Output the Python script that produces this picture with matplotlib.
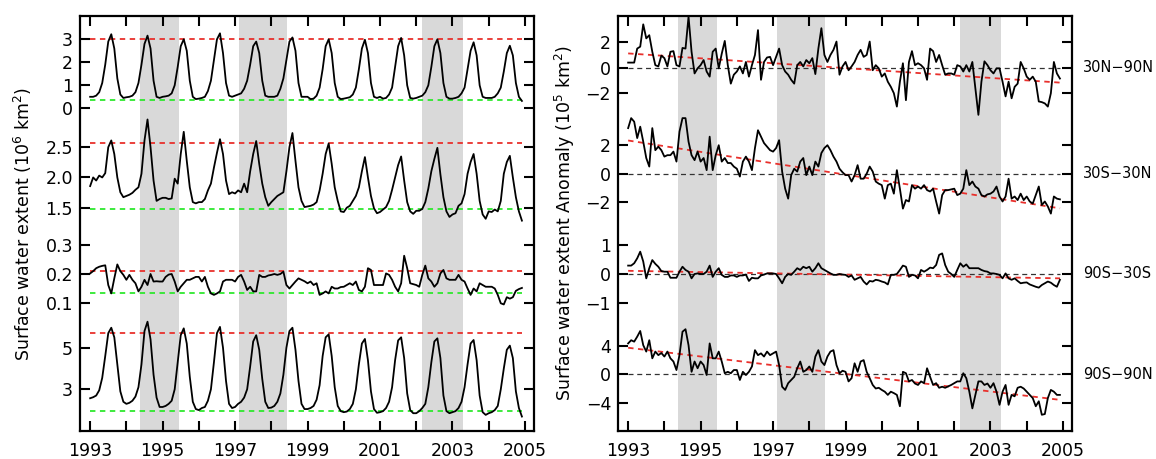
import numpy as np
import matplotlib.pyplot as plt

months = 1993 + np.arange(144) / 12.0

# left panel: surface water extent, monthly 1993-2004
ext_30n_90n = [
    0.5, 0.5, 0.55, 0.7, 1.1, 1.9, 2.9, 3.22, 2.6, 1.3, 0.6, 0.45,
    0.48, 0.5, 0.55, 0.7, 1.1, 1.9, 2.8, 3.16, 2.6, 1.2, 0.5, 0.45,
    0.5, 0.52, 0.55, 0.65, 1.0, 1.8, 2.7, 3.0, 2.5, 1.2, 0.5, 0.4,
    0.42, 0.45, 0.5, 0.75, 1.2, 2.1, 3.0, 3.26, 2.4, 1.1, 0.55, 0.5,
    0.55, 0.6, 0.65, 0.85, 1.2, 1.9, 2.7, 2.9, 2.4, 1.2, 0.55, 0.5,
    0.5, 0.5, 0.55, 0.85, 1.3, 2.1, 2.9, 3.08, 2.5, 1.1, 0.5, 0.5,
    0.5, 0.4, 0.42, 0.55, 0.9, 1.7, 2.7, 3.0, 2.4, 1.1, 0.5, 0.4,
    0.42, 0.45, 0.48, 0.6, 0.9, 1.7, 2.6, 2.98, 2.4, 1.1, 0.5, 0.45,
    0.5, 0.42, 0.45, 0.6, 0.9, 1.8, 2.7, 3.06, 2.3, 1.0, 0.45, 0.42,
    0.45, 0.5, 0.55, 0.7, 1.0, 1.8, 2.7, 3.0, 2.4, 1.1, 0.5, 0.42,
    0.42, 0.45, 0.5, 0.65, 0.9, 1.7, 2.5, 2.87, 2.3, 1.0, 0.5, 0.45,
    0.45, 0.45, 0.5, 0.65, 0.9, 1.6, 2.4, 2.72, 2.3, 1.1, 0.5, 0.32,
]
ext_30s_30n = [
    1.86, 2.0, 1.95, 2.03, 2.0, 2.07, 2.49, 2.6, 2.38, 2.0, 1.76, 1.68,
    1.7, 1.72, 1.75, 1.8, 1.84, 2.06, 2.6, 2.94, 2.49, 1.95, 1.62, 1.65,
    1.67, 1.67, 1.65, 1.66, 1.98, 1.9, 2.38, 2.74, 2.27, 1.84, 1.6, 1.58,
    1.6, 1.6, 1.65, 1.79, 1.9, 2.16, 2.4, 2.62, 2.38, 1.95, 1.73, 1.76,
    1.74, 1.79, 1.76, 1.9, 1.76, 2.1, 2.38, 2.59, 2.22, 1.9, 1.68, 1.54,
    1.6, 1.65, 1.7, 1.73, 1.76, 2.1, 2.49, 2.72, 2.27, 1.84, 1.62, 1.52,
    1.53, 1.54, 1.56, 1.6, 1.79, 2.06, 2.38, 2.55, 2.22, 1.84, 1.62, 1.45,
    1.44, 1.51, 1.54, 1.62, 1.7, 1.84, 2.1, 2.33, 2.0, 1.7, 1.5, 1.42,
    1.44, 1.48, 1.52, 1.62, 1.8, 2.0, 2.2, 2.34, 1.95, 1.6, 1.45, 1.41,
    1.46, 1.46, 1.49, 1.6, 1.82, 2.1, 2.3, 2.48, 2.05, 1.68, 1.45, 1.36,
    1.4, 1.42, 1.54, 1.58, 1.73, 2.06, 2.25, 2.38, 2.06, 1.62, 1.4, 1.33,
    1.45, 1.44, 1.48, 1.45, 1.62, 2.06, 2.25, 2.35, 2.0, 1.68, 1.45, 1.3,
]
ext_90s_30s = [
    0.202, 0.21, 0.22, 0.225, 0.228, 0.23, 0.162, 0.133, 0.185, 0.233, 0.21, 0.197,
    0.18, 0.197, 0.18, 0.168, 0.14, 0.156, 0.18, 0.162, 0.2, 0.174, 0.175, 0.174,
    0.174, 0.19, 0.198, 0.2, 0.174, 0.14, 0.156, 0.168, 0.18, 0.18, 0.185, 0.19,
    0.19, 0.174, 0.19, 0.156, 0.133, 0.128, 0.133, 0.14, 0.174, 0.18, 0.18, 0.18,
    0.174, 0.19, 0.197, 0.174, 0.145, 0.156, 0.14, 0.14, 0.197, 0.19, 0.19, 0.195,
    0.197, 0.2, 0.197, 0.2, 0.208, 0.162, 0.15, 0.162, 0.174, 0.185, 0.18, 0.175,
    0.168, 0.174, 0.162, 0.168, 0.128, 0.133, 0.14, 0.133, 0.156, 0.15, 0.15, 0.155,
    0.156, 0.162, 0.168, 0.162, 0.174, 0.145, 0.14, 0.156, 0.22, 0.214, 0.162, 0.162,
    0.162, 0.162, 0.202, 0.197, 0.18, 0.156, 0.14, 0.168, 0.263, 0.22, 0.168, 0.165,
    0.162, 0.156, 0.197, 0.229, 0.185, 0.174, 0.156, 0.168, 0.202, 0.214, 0.185, 0.18,
    0.18, 0.18, 0.197, 0.18, 0.174, 0.15, 0.128, 0.15, 0.14, 0.168, 0.162, 0.156,
    0.156, 0.156, 0.15, 0.128, 0.099, 0.095, 0.12, 0.115, 0.12, 0.142, 0.148, 0.152,
]
ext_90s_90n = [
    2.57, 2.62, 2.7, 2.95, 3.55, 4.6, 5.7, 5.96, 5.5, 4.2, 2.9, 2.4,
    2.3, 2.35, 2.45, 2.65, 3.1, 4.2, 5.8, 6.25, 5.4, 3.7, 2.6, 2.15,
    2.15, 2.2, 2.3, 2.45, 3.0, 4.3, 5.6, 5.93, 5.2, 3.6, 2.4, 2.05,
    2.0, 2.1, 2.15, 2.45, 3.0, 4.3, 5.7, 6.0, 5.0, 3.4, 2.3, 2.1,
    2.15, 2.3, 2.4, 2.6, 3.0, 4.1, 5.3, 5.6, 4.9, 3.5, 2.4, 2.1,
    2.12, 2.2, 2.4, 2.8, 3.7, 5.0, 5.8, 5.96, 4.9, 3.4, 2.3, 2.05,
    2.05, 2.1, 2.2, 2.5, 3.2, 4.6, 5.5, 5.64, 4.6, 3.1, 2.2, 1.95,
    1.9, 1.93, 2.05, 2.3, 3.0, 4.2, 5.2, 5.42, 4.4, 2.9, 2.05, 1.87,
    1.9, 1.95, 2.1, 2.4, 3.1, 4.4, 5.35, 5.5, 4.5, 2.8, 2.0, 1.85,
    1.85, 1.95, 2.1, 2.3, 3.1, 4.3, 5.3, 5.45, 4.5, 2.7, 1.95, 1.85,
    1.9, 1.95, 2.1, 2.4, 3.1, 4.2, 5.2, 5.37, 4.4, 2.7, 1.9, 1.77,
    1.85, 1.9, 2.0, 2.2, 3.0, 4.0, 4.9, 5.1, 4.5, 2.9, 2.1, 1.69,
]
ext_upper = [3.0, 2.565, 0.21, 5.69]
ext_lower = [0.37, 1.49, 0.133, 1.94]

# right panel: anomalies (10^5 km^2)
regions = ["30N\u221290N", "30S\u221230N", "90S\u221230S", "90S\u221290N"]
anom_30n_90n = [
    0.4, 0.4, 0.4, 1.5, 1.65, 3.4, 2.3, 2.55, 1.25, 0.2, 0.1, 0.95,
    0.75, 0.1, 1.25, 1.3, 0.2, 0.1, 1.55, 1.5, 4.0, 1.25, -0.45, -0.05,
    0.2, 0.6, -0.3, -0.7, 1.25, 1.5, -0.05, 1.1, 2.1, 0.2, -1.25, -0.55,
    -0.3, 0.1, -0.45, 0.45, -0.7, 0.2, 1.0, 2.95, -0.95, 0.45, 0.8, 0.85,
    0.2, 0.85, 1.5, 0.2, -0.3, -0.55, -0.95, -1.25, 0.2, 0.45, 0.1, 0.6,
    0.35, 0.75, -0.5, 1.5, 3.1, 1.0, 0.45, 1.0, 1.4, 2.05, -0.55, 0.1,
    0.45, -0.2, 0.1, 0.45, 1.0, 1.4, 0.85, 1.0, 2.05, -0.2, 0.2, -0.05,
    -0.7, -0.45, -1.1, -1.5, -2.0, -3.05, -1.1, 0.35, -2.55, 0.45, 1.3, 0.2,
    0.35, 0.2, -0.05, -0.95, 1.5, 1.3, 0.45, 1.0, 0.2, -0.55, -0.45, -0.45,
    -0.55, 0.2, 0.1, -0.3, 0.2, -0.3, 0.45, -1.6, -3.7, -1.1, 0.5, 0.2,
    -0.2, -0.45, -0.05, -0.05, -1.1, -2.25, -1.1, -2.4, -1.5, -1.25, 0.45, -0.05,
    -0.7, -0.95, -0.7, -1.1, -2.65, -2.7, -2.8, -3.05, -2.0, 0.45, -0.45, -0.85,
]
anom_30s_30n = [
    3.2, 3.9, 3.65, 2.5, 3.3, 2.25, 1.1, 0.5, 3.2, 1.65, 1.9, 1.65,
    1.2, 1.3, 1.3, 1.55, 0.85, 2.95, 3.9, 3.9, 2.25, 1.3, 0.95, 1.55,
    0.85, 1.1, 0.25, 2.6, 0.25, 1.3, 2.0, 0.85, 1.1, 0.75, 0.75, 0.5,
    0.35, -0.2, 0.85, 1.2, 0.85, 0.25, 1.8, 3.05, 2.6, 2.15, 1.9, 1.65,
    1.55, 1.8, 2.35, 0.15, -1.05, -1.75, -0.1, 0.35, 0.15, 0.85, 1.1, -0.1,
    0.5, -0.1, 0.85, 0.5, 1.45, 1.8, 2.0, 1.65, 1.2, 0.85, 0.35, 0.1,
    -0.1, -0.1, -0.55, -0.1, 0.6, -0.35, -0.35, 0.0, 0.5, 0.15, -0.55, -0.7,
    -0.8, -1.75, -0.8, -0.7, -1.4, 0.25, -1.05, -2.45, -1.85, -1.95, -0.8, -1.05,
    -0.9, -1.05, -0.8, -1.15, -1.25, -1.05, -1.95, -2.8, -1.5, -1.15, -1.15, -1.1,
    -1.05, -1.5, -1.4, -1.05, 0.25, -0.8, -0.55, -0.9, -1.05, -1.5, -1.6, -1.45,
    -1.4, -1.25, -0.9, -1.6, -1.95, -1.6, -0.35, -1.75, -1.6, -1.85, -1.4, -1.85,
    -1.6, -1.95, -2.1, -1.5, -0.9, -2.2, -1.95, -2.3, -2.8, -1.6, -1.75, -1.8,
]
anom_90s_30s = [
    0.29, 0.29, 0.37, 0.54, 0.77, 0.43, -0.15, 0.2, 0.48, 0.35, 0.25, 0.1,
    0.08, 0.08, -0.13, -0.13, -0.13, 0.08, 0.25, 0.14, 0.08, -0.15, 0.0, 0.02,
    0.0, 0.0, 0.08, 0.29, -0.1, 0.08, 0.2, -0.03, -0.1, -0.1, -0.05, -0.05,
    -0.1, -0.05, -0.05, -0.02, -0.24, -0.13, -0.15, -0.15, -0.05, -0.02, 0.02, 0.02,
    0.02, 0.0, -0.15, -0.32, -0.1, 0.0, -0.03, 0.08, 0.2, 0.14, 0.25, 0.2,
    0.25, 0.08, 0.2, 0.37, 0.2, 0.14, 0.08, 0.02, -0.03, -0.03, 0.0, -0.02,
    -0.03, -0.1, -0.05, -0.2, -0.15, -0.1, -0.26, -0.36, -0.24, -0.26, -0.2, -0.22,
    -0.26, -0.29, -0.36, -0.03, -0.03, 0.0, 0.14, 0.29, 0.25, -0.1, -0.03, -0.05,
    -0.15, 0.14, 0.08, 0.14, 0.22, 0.2, 0.31, 0.66, 0.71, 0.31, 0.08, 0.0,
    -0.1, 0.14, 0.37, 0.25, 0.33, 0.2, 0.2, 0.2, 0.2, 0.14, 0.1, 0.08,
    0.02, 0.02, 0.0, -0.03, -0.15, 0.02, -0.15, -0.2, -0.15, -0.24, -0.32, -0.3,
    -0.29, -0.36, -0.4, -0.44, -0.47, -0.38, -0.32, -0.26, -0.3, -0.38, -0.44, -0.2,
]
anom_90s_90n = [
    4.35, 4.8, 4.6, 5.3, 6.1, 4.1, 3.2, 4.8, 2.25, 3.2, 2.7, 3.0,
    2.5, 3.2, 2.25, 1.8, 0.6, 2.7, 6.0, 6.35, 4.1, 0.35, 1.8, 0.85,
    1.8, 1.3, -0.1, 4.35, 2.25, 2.25, 3.2, 1.8, 0.15, 0.35, 0.15, 0.6,
    0.6, -0.8, 0.35, -0.1, 0.35, 1.1, 3.4, 2.7, 2.95, 2.5, 3.2, 2.7,
    2.95, 3.2, 1.3, -1.75, -2.2, -1.25, -0.8, -0.35, 0.85, 1.8, 0.35, 0.6,
    1.1, 0.35, 2.5, 3.4, 1.8, 1.3, 2.5, 3.2, 3.4, 1.3, 0.15, 0.5,
    0.35, -1.0, -0.55, 1.55, 0.35, 1.8, 2.0, 0.35, -0.55, -1.5, -2.0, -1.9,
    -2.2, -2.45, -2.9, -2.45, -2.65, -2.9, -4.5, 0.35, 0.15, -1.0, -0.8, -1.3,
    -1.5, -1.0, -1.25, 0.85, -0.35, -1.5, -1.25, -1.9, -1.75, -1.9, -1.7, -1.5,
    -1.25, -1.0, -1.0, 0.15, -0.55, -2.45, -4.8, -2.9, -1.0, -1.0, -1.5, -1.3,
    -1.9, -1.25, -2.45, -4.3, -2.45, -1.5, -4.3, -2.9, -3.1, -1.9, -1.75, -2.0,
    -2.45, -2.9, -3.35, -4.5, -3.8, -5.7, -5.6, -3.35, -2.2, -2.45, -2.9, -2.9,
]
trend_start = [1.12, 2.33, 0.11, 3.74]
trend_end = [-1.17, -2.43, -0.15, -3.6]

enso_periods = [(1994.38, 1995.44), (1997.12, 1998.44), (2002.15, 2003.28)]

# layout of the stacked bands (pixel row of a reference value, pixels per unit)
left_bands = [(108.3, 0.0, 23.0), (208.3, 1.5, 61.7), (303.0, 0.1, 290.0), (389.3, 3.0, 20.8)]
left_ticks = [[0, 1, 2, 3], [1.5, 2.0, 2.5], [0.1, 0.2, 0.3], [3, 5]]
left_labels = [["0", "1", "2", "3"], ["1.5", "2.0", "2.5"], ["0.1", "0.2", "0.3"], ["3", "5"]]
right_bands = [(67.7, 0.0, 12.75), (173.7, 0.0, 14.25), (274.0, 0.0, 29.0), (374.3, 0.0, 7.1)]
right_ticks = [[-2, 0, 2], [-2, 0, 2], [-1, 0, 1], [-4, 0, 4]]
right_labels = [["\u22122", "0", "2"], ["\u22122", "0", "2"], ["\u22121", "0", "1"], ["\u22124", "0", "4"]]


def place(vals, band):
    y0, v0, ppu = band
    return y0 - (np.asarray(vals, dtype=float) - v0) * ppu


def setup(ax, bands, ticks, labels):
    ax.set_xlim(1992.72, 2005.25)
    ax.set_ylim(431, 16)
    for a, b in enso_periods:
        ax.axvspan(a, b, color="#d9d9d9", lw=0, zorder=0)
    pos, lab = [], []
    for band, tv, tl in zip(bands, ticks, labels):
        pos += list(place(tv, band))
        lab += tl
    ax.set_yticks(pos, lab)
    years = np.arange(1993, 2006)
    ax.set_xticks(years, [str(y) if y % 2 else "" for y in years])
    ax.tick_params(direction="in", length=7, width=1.5, top=True, right=True,
                   labelsize=12.5)
    ax.tick_params(axis="x", pad=8)
    ax.tick_params(axis="y", pad=5)
    for s in ax.spines.values():
        s.set_linewidth(1.6)


fig = plt.figure(figsize=(11.56, 4.59), dpi=100)
ax1 = fig.add_axes([80 / 1156, 28 / 459, 454 / 1156, 415 / 459])
ax2 = fig.add_axes([618 / 1156, 28 / 459, 454 / 1156, 415 / 459])

red_dash = dict(color="#e8302c", lw=1.3, ls=(0, (3, 2.5)))
green_dash = dict(color="#2ee82e", lw=1.3, ls=(0, (3, 2.5)))

setup(ax1, left_bands, left_ticks, left_labels)
left_series = [ext_30n_90n, ext_30s_30n, ext_90s_30s, ext_90s_90n]
for vals, band, hi, lo in zip(left_series, left_bands, ext_upper, ext_lower):
    ax1.plot([1993, 2004.92], place([hi, hi], band), **red_dash)
    ax1.plot([1993, 2004.92], place([lo, lo], band), **green_dash)
    ax1.plot(months, place(vals, band), color="black", lw=1.3)
ax1.set_ylabel("Surface water extent (10$^6$ km$^2$)", fontsize=12.5, labelpad=8)

setup(ax2, right_bands, right_ticks, right_labels)
right_series = [anom_30n_90n, anom_30s_30n, anom_90s_30s, anom_90s_90n]
for vals, band, t0, t1, name in zip(right_series, right_bands, trend_start, trend_end, regions):
    ax2.plot([1993, 2004.92], place([0, 0], band), color="#333333", lw=0.9, ls=(0, (4, 3)))
    ax2.plot([1993, 2004.92], place([t0, t1], band), **red_dash)
    ax2.plot(months, place(vals, band), color="black", lw=1.3)
    ax2.text(1.025, place(0, band), name, transform=ax2.get_yaxis_transform(),
             ha="left", va="center", fontsize=10.5)
ax2.set_ylabel("Surface water extent Anomaly (10$^5$ km$^2$)", fontsize=12.5, labelpad=6)

fig.savefig("out.png", dpi=100)
